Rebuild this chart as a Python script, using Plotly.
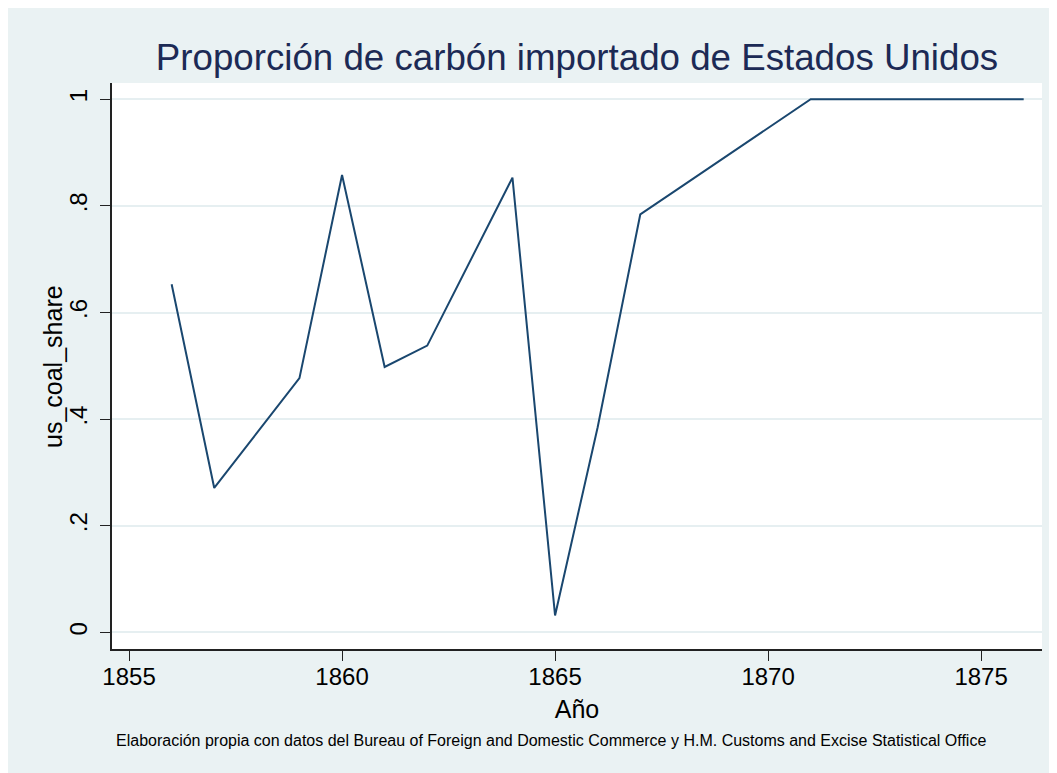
import plotly.graph_objects as go

years = [1856, 1857, 1859, 1860, 1861, 1862, 1864, 1865, 1866, 1867, 1868, 1869, 1870,
         1871, 1872, 1873, 1874, 1875, 1876]
us_coal_share = [0.653, 0.271, 0.477, 0.858, 0.498, 0.538, 0.853, 0.032, 0.385, 0.784,
                 0.838, 0.892, 0.946, 1.0, 1.0, 1.0, 1.0, 1.0, 1.0]

x_tickvals = [1855, 1860, 1865, 1870, 1875]
y_tickvals = [0, 0.2, 0.4, 0.6, 0.8, 1]
y_ticktext = ["0", ".2", ".4", ".6", ".8", "1"]

title_text = "Proporción de carbón importado de Estados Unidos"
caption_text = ("Elaboración propia con datos del Bureau of Foreign and Domestic Commerce "
                "y H.M. Customs and Excise Statistical Office")

W, H = 1057, 773
L, R, T, B = 104, 23, 75, 132
pw, ph = W - L - R, H - T - B

BG = "#EAF2F3"
FONT = "Liberation Sans, Arial, sans-serif"

fig = go.Figure()
fig.add_trace(go.Scatter(x=years, y=us_coal_share, mode="lines",
                         line=dict(color="#1A476F", width=2), showlegend=False))

def px_x(p):
    return (p - L) / pw

def px_y(p):
    return (H - B - p) / ph

fig.update_layout(
    width=W, height=H,
    margin=dict(l=L, r=R, t=T, b=B),
    paper_bgcolor=BG, plot_bgcolor="white",
    font=dict(family=FONT, color="black"),
    title=dict(text=title_text, x=0.5, xref="paper", xanchor="center",
               y=1 - 49 / H, yanchor="middle", yref="container",
               font=dict(size=36.7, color="#1C2A55", family=FONT)),
    xaxis=dict(range=[1854.6, 1876.43], tickvals=x_tickvals, showgrid=False,
               zeroline=False, showline=True, linecolor="#222222", linewidth=1.5,
               ticks="outside", ticklen=10, tickcolor="#222222", tickwidth=1.2,
               tickfont=dict(size=24), ticklabelstandoff=-5,
               title=dict(text="Año", font=dict(size=25), standoff=12)),
    yaxis=dict(range=[-0.031, 1.0305], tickvals=y_tickvals, ticktext=y_ticktext,
               showgrid=True, gridcolor="#E6EFF1", gridwidth=1.5,
               zeroline=False, showline=True, linecolor="#222222", linewidth=1.5,
               ticks="outside", ticklen=10, tickcolor="#222222", tickwidth=1.2,
               tickangle=-90, tickfont=dict(size=24), ticklabelstandoff=4),
    annotations=[
        dict(text="us_coal_share", xref="paper", yref="paper", x=px_x(45), y=px_y(358),
             xanchor="center", yanchor="middle", textangle=-90, showarrow=False,
             font=dict(size=25, color="black", family=FONT)),
        dict(text=caption_text, xref="paper", yref="paper", x=px_x(543), y=px_y(732),
             xanchor="center", yanchor="middle", showarrow=False,
             font=dict(size=16, color="black", family=FONT)),
    ],
)

fig.write_html("out.html")
